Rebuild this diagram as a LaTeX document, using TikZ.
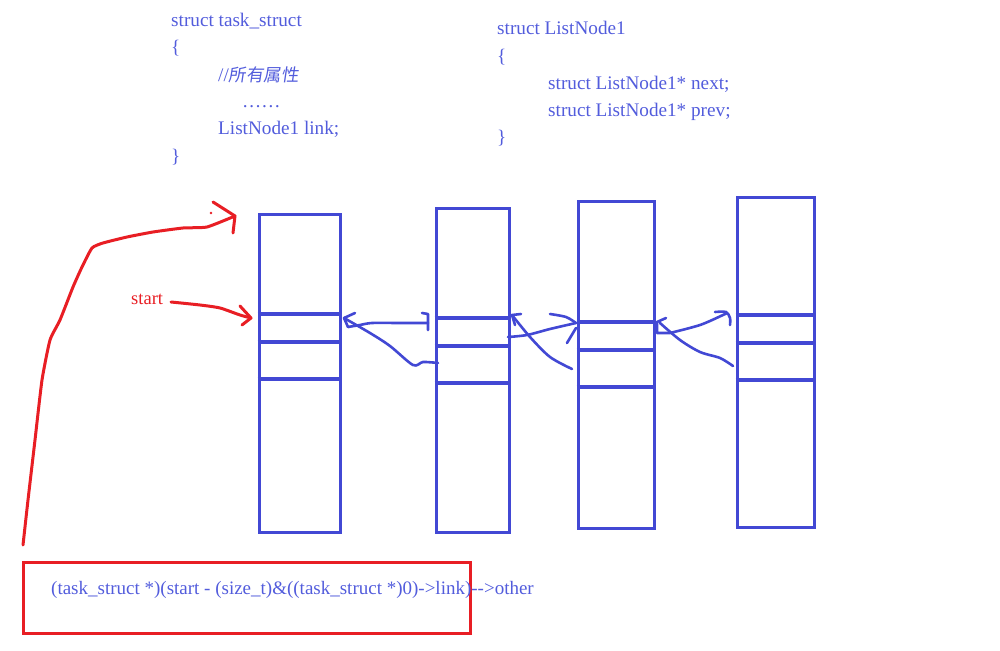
\documentclass[tikz,border=0pt]{standalone}
\usepackage{fontspec}
\setmainfont{Liberation Serif}
\newfontfamily\cjk[FakeSlant=0.15]{Noto Sans CJK SC}
\definecolor{lineblue}{RGB}{66,72,212}
\definecolor{textblue}{RGB}{82,92,220}
\definecolor{penred}{RGB}{232,30,36}
\tikzset{
  txt/.style={anchor=mid west, inner sep=0pt, text=textblue, font=\fontsize{19.2}{21}\selectfont},
  redtxt/.style={anchor=mid west, inner sep=0pt, text=penred, font=\fontsize{18.5}{21}\selectfont},
  cell/.style={draw=lineblue, line width=3.8pt, inner sep=0pt, anchor=north west},
  div/.style={draw=lineblue, line width=3.4pt},
  pen/.style={draw=lineblue, line width=2.6pt, line cap=round, line join=round},
  redpen/.style={draw=penred, line width=3pt, line cap=round, line join=round},
}
\begin{document}
\begin{tikzpicture}[x=1pt,y=-1pt]
\useasboundingbox (0,0) rectangle (1000,650);
% code text, left
\node[txt] (l1) at (171,24) {struct task\_struct};
\node[txt] (l2) at (171,51) {\{};
\node[txt] (l3) at (218,79) {//{\cjk\fontsize{17.5}{20}\selectfont 所有属性}};
\node[txt] (l4) at (242,105) {……};
\node[txt] (l5) at (218,132) {ListNode1 link;};
\node[txt] (l6) at (171,160) {\}};
% code text, right
\node[txt] (r1) at (497,32) {struct ListNode1};
\node[txt] (r2) at (497,60) {\{};
\node[txt] (r3) at (548,87) {struct ListNode1* next;};
\node[txt] (r4) at (548,114) {struct ListNode1* prev;};
\node[txt] (r5) at (497,141) {\}};
% boxes
\node[cell, minimum width=81pt, minimum height=318pt] (b1) at (257.5,212.5) {};
\node[cell, minimum width=73pt, minimum height=324pt] (b2) at (434.5,206.5) {};
\node[cell, minimum width=76pt, minimum height=327pt] (b3) at (576.5,199.5) {};
\node[cell, minimum width=77pt, minimum height=330pt] (b4) at (735.5,195.5) {};
\foreach \b/\ya/\yb/\yc in {b1/314/342/379, b2/318/346/383, b3/322/350/387, b4/315/343/380}{
  \draw[div] (\b.west |- 0,\ya) -- (\b.east |- 0,\ya);
  \draw[div] (\b.west |- 0,\yb) -- (\b.east |- 0,\yb);
  \draw[div] (\b.west |- 0,\yc) -- (\b.east |- 0,\yc);
}
% blue hand arrows, box1 <-> box2
\draw[pen] (355,313) -- (344,318) -- (348,327);
\draw[pen] plot[smooth] coordinates {(348,327) (360,325) (372,323) (400,323) (428,323)};
\draw[pen] (428,330) -- (428,314) -- (422,313);
\draw[pen] plot[smooth] coordinates {(344,318) (370,333) (390,346) (413,365) (423,362) (438,363)};
% box2 <-> box3
\draw[pen] (521,314) -- (512,315) -- (515,325);
\draw[pen] plot[smooth] coordinates {(512,315) (530,337) (550,357) (572,369)};
\draw[pen] plot[smooth] coordinates {(508,337) (527,335) (550,329) (576,323)};
\draw[pen] plot[smooth] coordinates {(550,314) (566,317) (576,323)};
\draw[pen] (567,343) -- (576,328);
% box3 <-> box4
\draw[pen] (666,318) -- (657,322) -- (657,333) -- (670,333);
\draw[pen] plot[smooth] coordinates {(660,323) (680,340) (700,352) (720,358) (733,366)};
\draw[pen] plot[smooth] coordinates {(670,333) (700,325) (723,315) (727,313)};
\draw[pen] plot[smooth] coordinates {(715,312) (726,312) (730,318) (730,325)};
% red arrows
\node[redtxt] (st) at (131,302) {start};
\draw[redpen] plot[smooth, tension=0.4] coordinates {(171,302) (200,305) (220,308) (240,315) (251,318)};
\draw[redpen] (240,306) -- (251,318) -- (242,325);
\node[draw=penred, line width=3.4pt, minimum width=447pt, minimum height=71pt, inner sep=0pt, anchor=north west] (fbox) at (21.5,560.5) {};
\node[txt, font=\fontsize{19}{21}\selectfont] (f1) at (51,592) {(task\_struct *)(start - (size\_t)\&((task\_struct *)0)->link)-{}->other};
\draw[redpen] plot[smooth, tension=0.3] coordinates {(23,545) (28,500) (35,440) (42,380) (50,340) (60,320) (73,287) (82,267) (92,248) (103,243) (127,237) (153,232) (183,228) (207,227) (235,216)};
\draw[redpen] (213,202) -- (235,216) -- (233,233);
\fill[penred] (211,213) circle (1.3pt);
\end{tikzpicture}
\end{document}
